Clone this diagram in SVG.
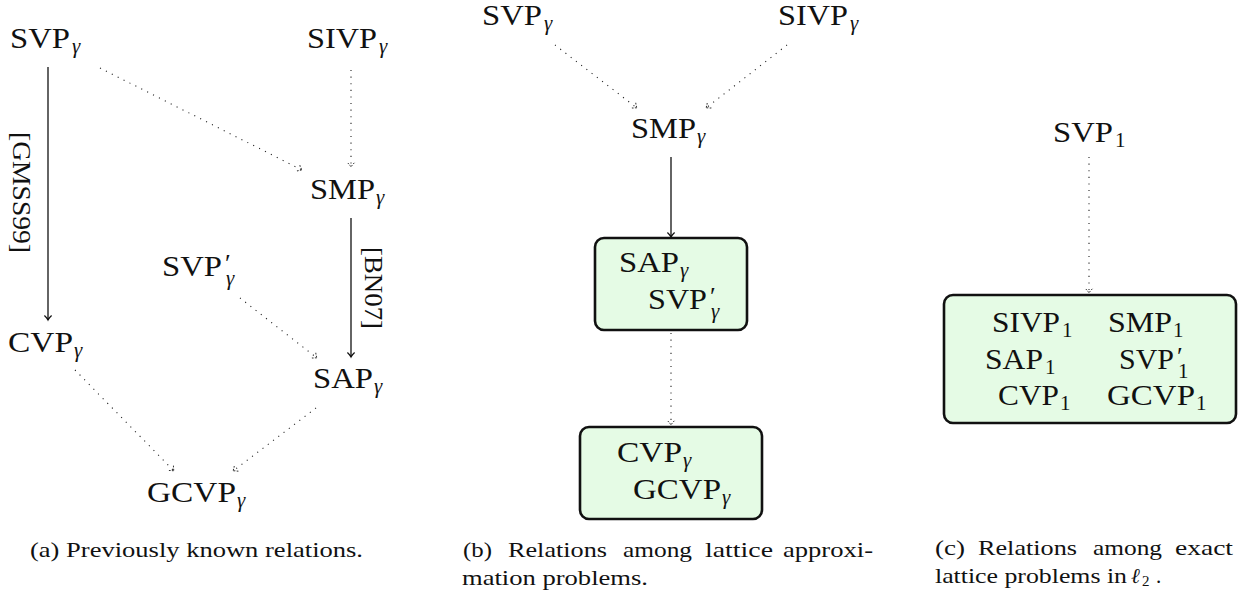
<svg xmlns="http://www.w3.org/2000/svg" width="1241" height="593" viewBox="0 0 1241 593">
  <style>
    text { font-family: "Liberation Serif", "DejaVu Serif", serif; fill: #111; }
    .lbl { font-size: 30px; }
    .sub { font-size: 21px; }
    .it { font-style: italic; }
    .pr { font-size: 26px; font-style: normal; }
    .cap { font-size: 21px; }
    .solid { stroke: #111; stroke-width: 1.3; fill: none; marker-end: url(#tip); }
    .dot { stroke: #222; stroke-width: 1.1; fill: none; stroke-dasharray: 1.1 5.5; marker-end: url(#tipdot); }
    .box { fill: #e5fbe5; stroke: #111; stroke-width: 2.6; }
  </style>
  <defs>
    <marker id="tip" markerUnits="userSpaceOnUse" orient="auto" markerWidth="12" markerHeight="12" refX="0" refY="0" viewBox="-6 -6 12 12" overflow="visible">
      <path d="M-4.5,-3.6 C-2.6,-1.6 -0.9,-0.4 0,0 C-0.9,0.4 -2.6,1.6 -4.5,3.6" fill="none" stroke="#111" stroke-width="1.2"/>
    </marker>
    <marker id="tipdot" markerUnits="userSpaceOnUse" orient="auto" markerWidth="12" markerHeight="12" refX="0" refY="0" viewBox="-6 -6 12 12" overflow="visible">
      <path d="M-4.2,-3.4 C-2.4,-1.5 -0.8,-0.4 0,0 C-0.8,0.4 -2.4,1.5 -4.2,3.4" fill="none" stroke="#333" stroke-width="1" stroke-dasharray="1.6 1.4"/>
    </marker>
  </defs>

  <!-- connectors -->
  <g id="connectors">
    <!-- (a) -->
    <path class="solid" d="M48,67 L48,320"/>
    <path class="dot" d="M100,68 L302,170"/>
    <path class="dot" d="M351,70 L351,167"/>
    <path class="solid" d="M351,218 L351,357"/>
    <path class="dot" d="M240,298 L317,358"/>
    <path class="dot" d="M75,370 L174,471"/>
    <path class="dot" d="M316,408 L233,471"/>
    <!-- (b) -->
    <path class="dot" d="M555,45 L637,108"/>
    <path class="dot" d="M787,45 L706,108"/>
    <path class="solid" d="M671,157 L671,237"/>
    <path class="dot" d="M671,333 L671,425"/>
    <!-- (c) -->
    <path class="dot" d="M1089,157 L1089,293"/>
  </g>

  <!-- edge labels (a), set sideways along the solid edges -->
  <g id="edge-labels">
    <text transform="translate(13,132) rotate(90)" textLength="121" lengthAdjust="spacingAndGlyphs" style="font-size:26px">[GMSS99]</text>
    <text transform="translate(365,247) rotate(90)" textLength="82" lengthAdjust="spacingAndGlyphs" style="font-size:26px">[BN07]</text>
  </g>

  <!-- panel (a) nodes -->
  <g id="a-svp">
    <text class="lbl" x="10" y="48" textLength="60" lengthAdjust="spacingAndGlyphs">SVP</text>
    <text class="sub it" x="72" y="52.5">γ</text>
  </g>
  <g id="a-sivp">
    <text class="lbl" x="307" y="48" textLength="70" lengthAdjust="spacingAndGlyphs">SIVP</text>
    <text class="sub it" x="379" y="52.5">γ</text>
  </g>
  <g id="a-smp">
    <text class="lbl" x="310" y="199" textLength="65" lengthAdjust="spacingAndGlyphs">SMP</text>
    <text class="sub it" x="376" y="203.5">γ</text>
  </g>
  <g id="a-svpp">
    <text class="lbl" x="162" y="276" textLength="60" lengthAdjust="spacingAndGlyphs">SVP</text>
    <!-- prime and subscript stacked -->
    <text class="sub it"><tspan class="pr" x="225" y="272">′</tspan><tspan x="226" y="285">γ</tspan></text>
  </g>
  <g id="a-cvp">
    <text class="lbl" x="8" y="352" textLength="65" lengthAdjust="spacingAndGlyphs">CVP</text>
    <text class="sub it" x="74" y="356.5">γ</text>
  </g>
  <g id="a-sap">
    <text class="lbl" x="313" y="388" textLength="60" lengthAdjust="spacingAndGlyphs">SAP</text>
    <text class="sub it" x="374" y="392.5">γ</text>
  </g>
  <g id="a-gcvp">
    <text class="lbl" x="147" y="502" textLength="89" lengthAdjust="spacingAndGlyphs">GCVP</text>
    <text class="sub it" x="237" y="506.5">γ</text>
  </g>

  <!-- panel (b) nodes -->
  <g id="b-svp">
    <text class="lbl" x="482" y="25" textLength="60" lengthAdjust="spacingAndGlyphs">SVP</text>
    <text class="sub it" x="544" y="29.5">γ</text>
  </g>
  <g id="b-sivp">
    <text class="lbl" x="778" y="25" textLength="70" lengthAdjust="spacingAndGlyphs">SIVP</text>
    <text class="sub it" x="850" y="29.5">γ</text>
  </g>
  <g id="b-smp">
    <text class="lbl" x="631" y="138" textLength="65" lengthAdjust="spacingAndGlyphs">SMP</text>
    <text class="sub it" x="697" y="142.5">γ</text>
  </g>
  <g id="b-box1">
    <rect class="box" x="595" y="238" width="152" height="92" rx="9"/>
    <text class="lbl" x="619" y="272" textLength="60" lengthAdjust="spacingAndGlyphs">SAP</text>
    <text class="sub it" x="680" y="276.5">γ</text>
    <text class="lbl" x="648" y="309" textLength="59" lengthAdjust="spacingAndGlyphs">SVP</text>
    <text class="sub it"><tspan class="pr" x="710" y="305">′</tspan><tspan x="711" y="318">γ</tspan></text>
  </g>
  <g id="b-box2">
    <rect class="box" x="580" y="427" width="182" height="92" rx="9"/>
    <text class="lbl" x="617" y="462" textLength="65" lengthAdjust="spacingAndGlyphs">CVP</text>
    <text class="sub it" x="683" y="466.5">γ</text>
    <text class="lbl" x="633" y="499" textLength="88" lengthAdjust="spacingAndGlyphs">GCVP</text>
    <text class="sub it" x="722" y="503.5">γ</text>
  </g>

  <!-- panel (c) nodes -->
  <g id="c-svp">
    <text class="lbl" x="1053" y="142" textLength="60" lengthAdjust="spacingAndGlyphs">SVP</text>
    <text class="sub" x="1115" y="146.5">1</text>
  </g>
  <g id="c-box">
    <rect class="box" x="944" y="295" width="292" height="128" rx="9"/>
    <text class="lbl" x="992" y="332" textLength="68" lengthAdjust="spacingAndGlyphs">SIVP</text>
    <text class="sub" x="1062" y="336.5">1</text>
    <text class="lbl" x="1108" y="332" textLength="64" lengthAdjust="spacingAndGlyphs">SMP</text>
    <text class="sub" x="1173" y="336.5">1</text>
    <text class="lbl" x="985" y="369" textLength="58" lengthAdjust="spacingAndGlyphs">SAP</text>
    <text class="sub" x="1045" y="373.5">1</text>
    <text class="lbl" x="1119" y="369" textLength="55" lengthAdjust="spacingAndGlyphs">SVP</text>
    <text class="sub"><tspan class="pr" x="1177" y="365">′</tspan><tspan x="1178" y="378">1</tspan></text>
    <text class="lbl" x="998" y="405" textLength="61" lengthAdjust="spacingAndGlyphs">CVP</text>
    <text class="sub" x="1060" y="409.5">1</text>
    <text class="lbl" x="1107" y="405" textLength="88" lengthAdjust="spacingAndGlyphs">GCVP</text>
    <text class="sub" x="1196" y="409.5">1</text>
  </g>

  <!-- captions -->
  <g id="captions">
    <text class="cap" x="30" y="557" textLength="333" lengthAdjust="spacingAndGlyphs">(a) Previously known relations.</text>

    <text class="cap" x="463" y="557" textLength="29" lengthAdjust="spacingAndGlyphs">(b)</text>
    <text class="cap" x="508" y="557" textLength="99" lengthAdjust="spacingAndGlyphs">Relations</text>
    <text class="cap" x="623" y="557" textLength="69" lengthAdjust="spacingAndGlyphs">among</text>
    <text class="cap" x="705" y="557" textLength="68" lengthAdjust="spacingAndGlyphs">lattice</text>
    <text class="cap" x="783" y="557" textLength="90" lengthAdjust="spacingAndGlyphs">approxi-</text>
    <text class="cap" x="462" y="585" textLength="186" lengthAdjust="spacingAndGlyphs">mation problems.</text>

    <text class="cap" x="935" y="555" textLength="30" lengthAdjust="spacingAndGlyphs">(c)</text>
    <text class="cap" x="978" y="555" textLength="99" lengthAdjust="spacingAndGlyphs">Relations</text>
    <text class="cap" x="1093" y="555" textLength="69" lengthAdjust="spacingAndGlyphs">among</text>
    <text class="cap" x="1175" y="555" textLength="58" lengthAdjust="spacingAndGlyphs">exact</text>
    <text class="cap" x="935" y="583" textLength="192" lengthAdjust="spacingAndGlyphs">lattice problems in</text>
    <text class="cap it" x="1131" y="583">ℓ</text>
    <text x="1142" y="586" style="font-size:15px">2</text>
    <text class="cap" x="1156" y="583">.</text>
  </g>
</svg>
